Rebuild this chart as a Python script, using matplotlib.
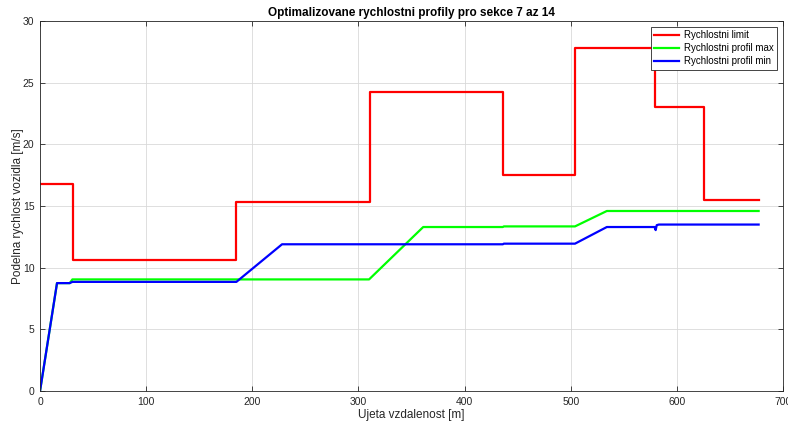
import matplotlib
matplotlib.use('Agg')
import matplotlib.pyplot as plt

plt.rcParams['font.family'] = ['Liberation Sans', 'DejaVu Sans']

# Speed limit per section (step profile)
limit_x = [0, 30.7, 30.7, 185, 185, 310.5, 310.5, 436, 436, 504, 504, 579, 579, 625.5, 625.5, 677]
limit_v = [16.75, 16.75, 10.6, 10.6, 15.3, 15.3, 24.25, 24.25, 17.5, 17.5, 27.8, 27.8, 23.0, 23.0, 15.5, 15.5]

# Optimised profile - max
max_x = [0, 16, 28, 30.5, 310, 361, 436, 437, 504, 534, 677]
max_v = [0, 8.75, 8.75, 9.05, 9.05, 13.3, 13.3, 13.35, 13.35, 14.6, 14.6]

# Optimised profile - min
min_x = [0, 16, 28, 30.5, 185, 228, 436, 437, 504, 534, 579, 580, 581, 583, 677]
min_v = [0, 8.75, 8.75, 8.85, 8.85, 11.9, 11.9, 11.95, 11.95, 13.3, 13.3, 13.05, 13.45, 13.5, 13.5]

fig = plt.figure(figsize=(7.88, 4.23), dpi=100)
ax = fig.add_axes([0.0508, 0.0757, 0.9429, 0.8743])

ax.plot(limit_x, limit_v, color='#ff0000', linewidth=1.6, label='Rychlostni limit')
ax.plot(max_x, max_v, color='#00ff00', linewidth=1.6, label='Rychlostni profil max')
ax.plot(min_x, min_v, color='#0000ff', linewidth=1.6, label='Rychlostni profil min')

ax.set_xlim(0, 700)
ax.set_ylim(0, 30)
ax.set_xticks(range(0, 701, 100))
ax.set_yticks(range(0, 31, 5))
ax.grid(True, color='#d9d9d9', linewidth=0.6)
ax.set_axisbelow(True)
ax.tick_params(direction='in', top=True, right=True, labelsize=7.5,
               colors='#262626', length=3.5, width=0.6, pad=4)
for s in ax.spines.values():
    s.set_color('#262626')
    s.set_linewidth(0.6)

ax.set_xlabel('Ujeta vzdalenost [m]', fontsize=8.5, color='#262626', labelpad=2)
ax.set_ylabel('Podelna rychlost vozidla [m/s]', fontsize=8.5, color='#262626')
ax.yaxis.set_label_coords(-0.022, 0.5)
ax.set_title('Optimalizovane rychlostni profily pro sekce 7 az 14', fontsize=8.5,
             fontweight='bold', pad=4)

leg = ax.legend(loc='upper right', fontsize=7, fancybox=False, framealpha=1,
                edgecolor='#262626', borderpad=0.35, labelspacing=0.3,
                handlelength=2.6, handletextpad=0.5, borderaxespad=0.6)
leg.get_frame().set_linewidth(0.6)

fig.savefig('out.png', dpi=100)
